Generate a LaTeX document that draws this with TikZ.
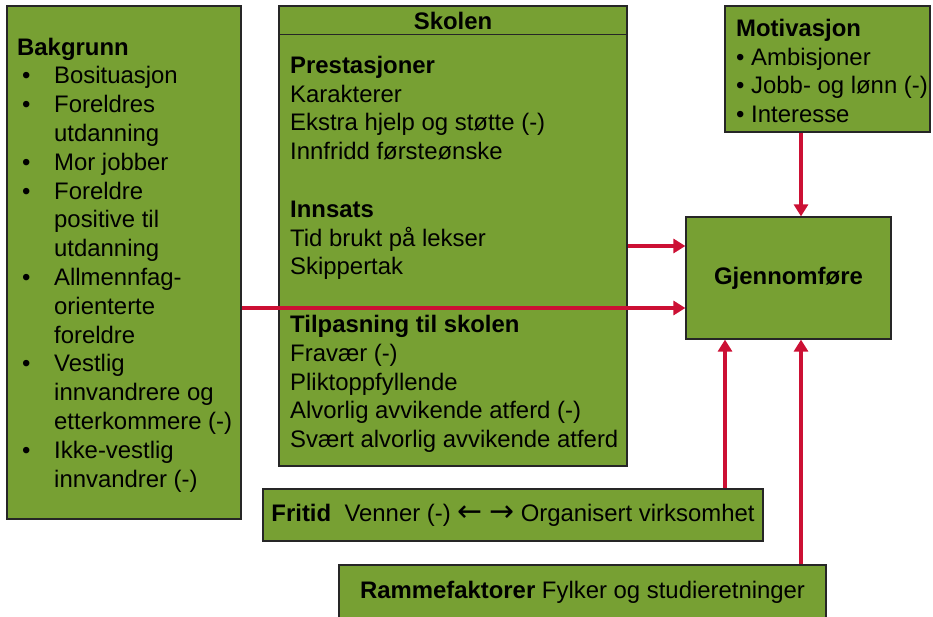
\documentclass[tikz,border=0pt]{standalone}
\usepackage{fontspec}
\setmainfont{Liberation Sans}
\newfontfamily\arrowfont[Scale=1.25]{DejaVu Sans}
\usetikzlibrary{arrows.meta}
\definecolor{boxgreen}{RGB}{119,160,51}
\definecolor{linkred}{RGB}{204,16,52}
\newcommand{\bul}{\makebox[37pt][l]{\hspace{5pt}\textbullet}}
\newcommand{\ind}{\hspace*{37pt}}

\begin{document}
\begin{tikzpicture}[
  x=1pt, y=-1pt,
  every node/.style={font=\fontsize{23.9}{28.8}\selectfont},
  box/.style={draw=black!85, line width=1.2pt, fill=boxgreen, inner sep=0pt},
  txt/.style={anchor=north west, inner sep=0pt, align=left},
  link/.style={draw=linkred, line width=4pt, -{Triangle[length=12pt,width=14pt]}}
]
\useasboundingbox (0,0) rectangle (933,616);

% boxes
\node[box, minimum width=234pt, minimum height=513pt] (bak) at (124,262.5) {};
\node[box, minimum width=348pt, minimum height=460pt] (skolen) at (453,236) {};
\node[box, minimum width=205pt, minimum height=126pt] (motiv) at (827.5,69) {};
\node[box, minimum width=205pt, minimum height=122pt] (gjen) at (788.5,278) {\textbf{Gjennomføre}};
\node[box, minimum width=500pt, minimum height=52pt] (fritid) at (513,515)
  {\textbf{Fritid}\ \ Venner (-) {\arrowfont ←} {\arrowfont →} Organisert virksomhet};
\node[box, minimum width=487pt, minimum height=54pt] (ramme) at (582.5,592)
  {\textbf{Rammefaktorer} Fylker og studieretninger};

% texts
\node[txt] (bakT) at (17,34.8) {\strut\textbf{Bakgrunn}\\
  \bul Bosituasjon\\
  \bul Foreldres\\ \ind utdanning\\
  \bul Mor jobber\\
  \bul Foreldre\\ \ind positive til\\ \ind utdanning\\
  \bul Allmennfag-\\ \ind orienterte\\ \ind foreldre\\
  \bul Vestlig\\ \ind innvandrere og\\ \ind etterkommere (-)\\
  \bul Ikke-vestlig\\ \ind innvandrer (-)};

\node[font=\bfseries\fontsize{23.9}{28.8}\selectfont] (skolenT) at (453,21) {Skolen};
\draw[black!85, line width=1.2pt] (skolen.north west) ++(0,29) coordinate (hdrL)
  (skolen.north east) ++(0,29) coordinate (hdrR);
\draw[black!85, line width=1.4pt] (hdrL) -- (hdrR);

\node[txt] (skolenL) at (290,53) {\strut\textbf{Prestasjoner}\\
  Karakterer\\
  Ekstra hjelp og støtte (-)\\
  Innfridd førsteønske\\[28.8pt]
  \textbf{Innsats}\\
  Tid brukt på lekser\\
  Skippertak\\[28.8pt]
  \textbf{Tilpasning til skolen}\\
  Fravær (-)\\
  Pliktoppfyllende\\
  Alvorlig avvikende atferd (-)\\
  Svært alvorlig avvikende atferd};

\node[txt] (motivT) at (736,16) {\strut\textbf{Motivasjon}\\
  \textbullet\ Ambisjoner\\
  \textbullet\ Jobb- og lønn (-)\\
  \textbullet\ Interesse};

% connectors
\coordinate (rowA) at (0,308);
\coordinate (rowB) at (0,246);
\coordinate (colA) at (801,0);
\coordinate (colB) at (725,0);
\draw[link] (bak.east |- rowA) -- (gjen.west |- rowA);
\draw[link] (skolen.east |- rowB) -- (gjen.west |- rowB);
\draw[link] (motiv.south -| colA) -- (gjen.north -| colA);
\draw[link] (fritid.north -| colB) -- (gjen.south -| colB);
\draw[link] (ramme.north -| colA) -- (gjen.south -| colA);
\end{tikzpicture}
\end{document}
